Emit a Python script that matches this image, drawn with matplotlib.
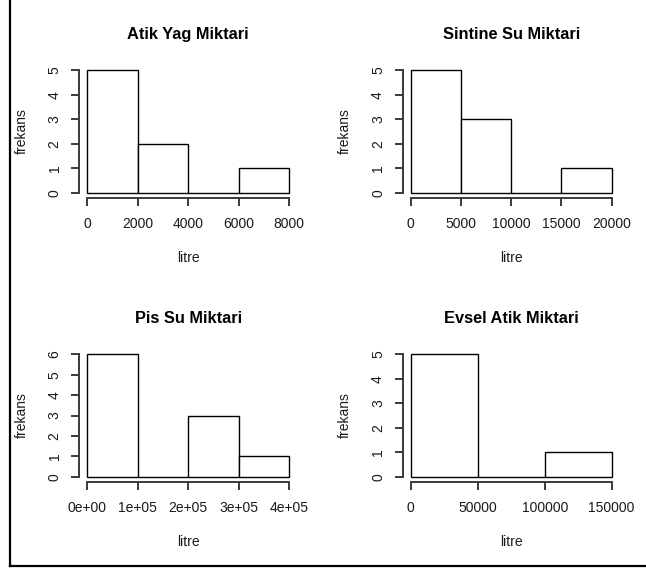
import numpy as np
import matplotlib
matplotlib.use('Agg')
import matplotlib.pyplot as plt
from matplotlib.lines import Line2D

plt.rcParams['font.family'] = ['Liberation Sans', 'DejaVu Sans']

# histogram data (bin edges and counts) for each panel
titles = ['Atik Yag Miktari', 'Sintine Su Miktari', 'Pis Su Miktari', 'Evsel Atik Miktari']

edges_atik = [0, 2000, 4000, 6000, 8000]
counts_atik = [5, 2, 0, 1]

edges_sintine = [0, 5000, 10000, 15000, 20000]
counts_sintine = [5, 3, 0, 1]

edges_pis = [0, 100000, 200000, 300000, 400000]
counts_pis = [6, 0, 3, 1]

edges_evsel = [0, 50000, 100000, 150000]
counts_evsel = [5, 0, 1]

xticks_atik = [0, 2000, 4000, 6000, 8000]
xticks_sintine = [0, 5000, 10000, 15000, 20000]
xticks_pis = [0, 100000, 200000, 300000, 400000]
xticklabels_pis = ['0e+00', '1e+05', '2e+05', '3e+05', '4e+05']
xticks_evsel = [0, 50000, 100000, 150000]

panels = [
    (edges_atik, counts_atik, xticks_atik, None),
    (edges_sintine, counts_sintine, xticks_sintine, None),
    (edges_pis, counts_pis, xticks_pis, xticklabels_pis),
    (edges_evsel, counts_evsel, xticks_evsel, None),
]

W, H = 646, 571
fig = plt.figure(figsize=(W / 100, H / 100), dpi=100)

# axes boxes in pixels: left, top, width, height
boxes = [(79.3, 65.4, 217.8, 132.2), (402.7, 65.4, 217.0, 132.2),
         (79.3, 349.4, 217.8, 132.2), (402.7, 349.4, 217.0, 132.2)]

axis_col = '#3a3a3a'
txt_col = '#1a1a1a'
for (edges, counts, xt, xtl), box, title in zip(panels, boxes, titles):
    l, t, w, h = box
    ax = fig.add_axes([l / W, 1 - (t + h) / H, w / W, h / H])
    edges = np.array(edges, dtype=float)
    counts = np.array(counts, dtype=float)
    ax.bar(edges[:-1], counts, width=np.diff(edges), align='edge',
           facecolor='white', edgecolor='black', linewidth=1.0)
    lo, hi = edges[0], edges[-1]
    r = hi - lo
    ymax = counts.max()
    ax.set_xlim(lo - 0.04 * r, hi + 0.04 * r)
    ax.set_ylim(-0.04 * ymax, 1.04 * ymax)
    for s in ['top', 'right']:
        ax.spines[s].set_visible(False)
    ax.spines['left'].set_bounds(0, ymax)
    ax.spines['bottom'].set_bounds(lo, hi)
    for s in ['left', 'bottom']:
        ax.spines[s].set_linewidth(1.4)
        ax.spines[s].set_color(axis_col)
    ax.set_xticks(xt)
    if xtl is not None:
        ax.set_xticklabels(xtl)
    else:
        ax.set_xticklabels([str(v) for v in xt])
    yt = np.arange(0, ymax + 1)
    ax.set_yticks(yt)
    ax.set_yticklabels([str(int(v)) for v in yt], rotation=90, va='center')
    ax.tick_params(axis='both', length=5.7, width=1.4, color=axis_col,
                   labelsize=10, labelcolor=txt_col)
    ax.tick_params(axis='x', pad=8.5)
    ax.tick_params(axis='y', pad=7)
    ax.text(0.5, 1.2, title, transform=ax.transAxes, ha='center', va='baseline',
            fontsize=11.8, fontweight='bold', color='black')
    ax.text(0.5, -0.488, 'litre', transform=ax.transAxes, ha='center', va='baseline',
            fontsize=10, color=txt_col)
    ax.text(-0.265, 0.5, 'frekans', transform=ax.transAxes, ha='center', va='center',
            rotation=90, fontsize=10, color=txt_col)

# frame lines (left and bottom) of the screenshot
fig.add_artist(Line2D([9.5 / W, 9.5 / W], [1, 1 - 566 / H], transform=fig.transFigure,
                      color='black', linewidth=1.6))
fig.add_artist(Line2D([9.5 / W, 1], [1 - 565.5 / H, 1 - 565.5 / H], transform=fig.transFigure,
                      color='black', linewidth=1.6))

fig.savefig('out.png', dpi=100)
